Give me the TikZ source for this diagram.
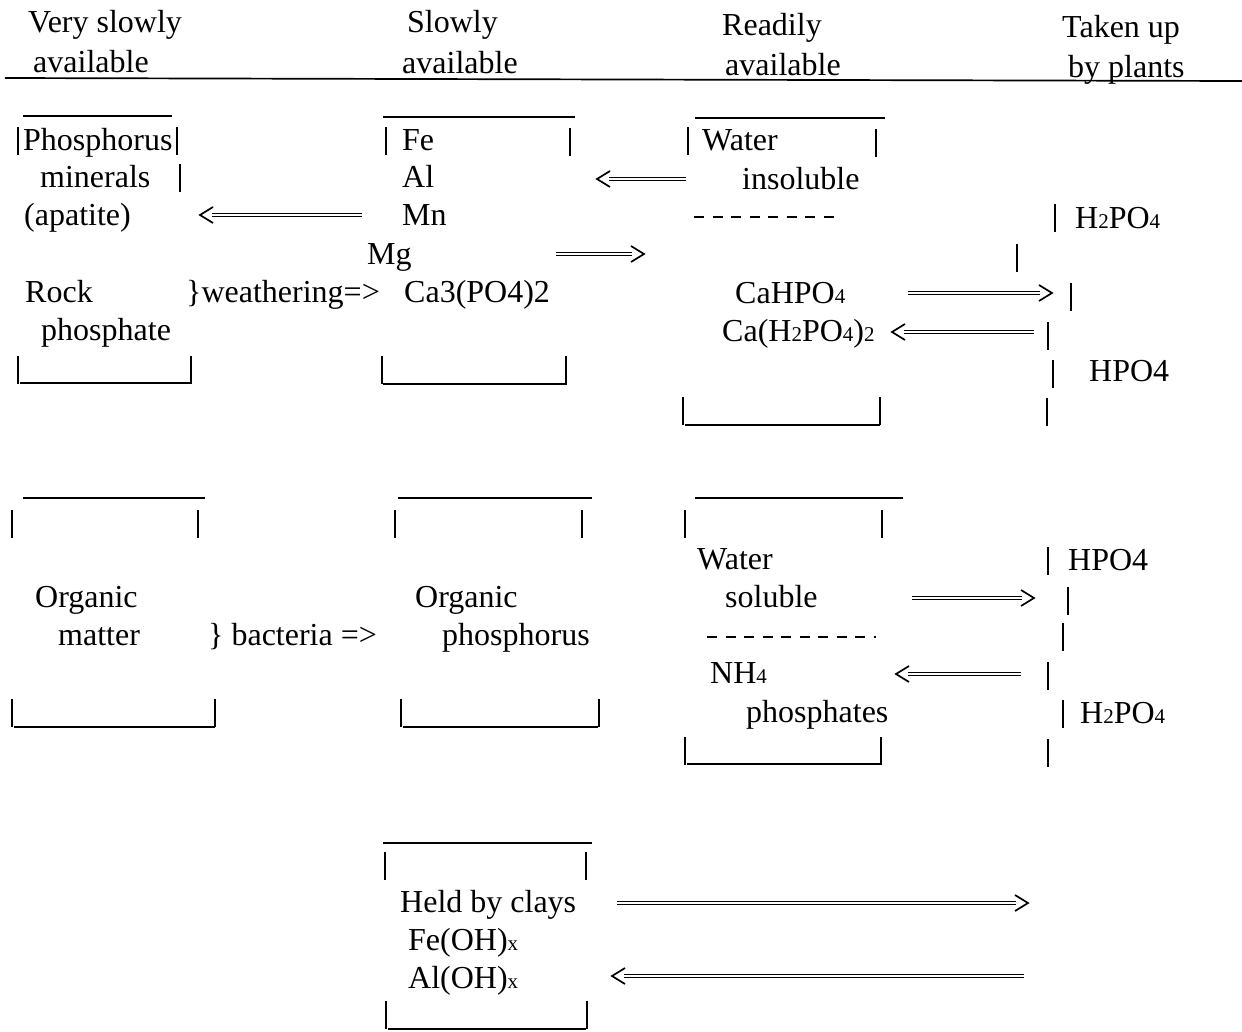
\documentclass[tikz,border=0pt]{standalone}
\usepackage{fontspec}
\setmainfont{Liberation Serif}
\usetikzlibrary{calc}
\newcommand\sbs[1]{{\fontsize{21}{21}\selectfont #1}}
\newcommand\vbar[2]{\draw[bar] (#1,#2) -- (#1,#2+28);}
\newcommand\dblarrow[2]{%
  \draw[dbl] (#1) -- ($(#2)!12pt!(#1)$);
  \draw[chev] ($(#2)!13pt!(#1)+(0,-8)$) -- (#2) -- ($(#2)!13pt!(#1)+(0,8)$);}
\begin{document}
\begin{tikzpicture}[x=1pt,y=-1pt,
  txt/.style={anchor=base west, inner sep=0pt, font=\fontsize{32}{38}\selectfont},
  rule/.style={line width=1.7pt},
  bar/.style={line width=1.6pt},
  dbl/.style={line width=1.4pt, double, double distance=2pt},
  chev/.style={line width=1.7pt, line join=miter},
  sepline/.style={line width=2.4pt, dash pattern=on 10pt off 8.5pt}]
\useasboundingbox[fill=white] (0,0) rectangle (1242,1031);
% header
\node[txt] (h1a) at (28,32) {Very slowly};
\node[txt] (h1b) at (33,72) {available};
\node[txt] (h2a) at (407,32) {Slowly};
\node[txt] (h2b) at (402,73) {available};
\node[txt] (h3a) at (722,35) {Readily};
\node[txt] (h3b) at (725,75) {available};
\node[txt] (h4a) at (1062,37) {Taken up};
\node[txt] (h4b) at (1068,77) {by plants};
\draw[rule] (5,78) -- (1242,81);
% box 1
\draw[rule] (23,116) -- (172,116);
\vbar{18}{127}
\node[txt] (b1a) at (23,150) {Phosphorus};
\vbar{177}{127}
\node[txt] (b1b) at (40,187) {minerals};
\vbar{180}{164}
\node[txt] (b1c) at (24,225) {(apatite)};
\node[txt] (b1d) at (25,302) {Rock};
\node[txt] (b1e) at (41,340) {phosphate};
\vbar{18}{356}
\draw[rule] (20,383) -- (190,383);
\vbar{191}{356}
\node[txt] (w1) at (186,302) {\}weathering=>};
% box 2
\draw[rule] (383,117) -- (575,117);
\vbar{386}{127}
\node[txt] (b2a) at (402,150) {Fe};
\vbar{570}{128}
\node[txt] (b2b) at (402,187) {Al};
\node[txt] (b2c) at (402,225) {Mn};
\node[txt] (b2d) at (367,264) {Mg};
\node[txt] (b2e) at (404,302) {Ca3(PO4)2};
\vbar{382}{356}
\draw[rule] (383,384) -- (567,384);
\vbar{566}{356}
% box 3
\draw[rule] (695,118) -- (885,118);
\vbar{688}{127}
\node[txt] (b3a) at (702,150) {Water};
\vbar{876}{129}
\node[txt] (b3b) at (742,189) {insoluble};
\draw[sepline] (694,217) -- (834,217);
\node[txt] (b3c) at (735,303) {CaHPO\sbs{4}};
\node[txt] (b3d) at (722,341) {Ca(H\sbs{2}PO\sbs{4})\sbs{2}};
\vbar{683}{397}
\draw[rule] (685,425) -- (880,425);
\vbar{880}{397}
% right column 1
\vbar{1055}{204}
\node[txt] (r1a) at (1075,228) {H\sbs{2}PO\sbs{4}};
\vbar{1017}{244}
\vbar{1071}{283}
\vbar{1048}{322}
\vbar{1053}{360}
\node[txt] (r1b) at (1089,381) {HPO4};
\vbar{1047}{398}
% box 4
\draw[rule] (23,498) -- (205,498);
\vbar{12}{510}
\vbar{198}{510}
\node[txt] (b4a) at (35,607) {Organic};
\node[txt] (b4b) at (58,645) {matter};
\vbar{12}{699}
\draw[rule] (14,727) -- (215,727);
\vbar{215}{699}
\node[txt] (bact) at (208,645) {\} bacteria =>};
% box 5
\draw[rule] (398,498) -- (592,498);
\vbar{395}{510}
\vbar{582}{510}
\node[txt] (b5a) at (415,607) {Organic};
\node[txt] (b5b) at (442,645) {phosphorus};
\vbar{401}{699}
\draw[rule] (403,727) -- (598,727);
\vbar{599}{699}
% box 6
\draw[rule] (695,498) -- (903,498);
\vbar{685}{510}
\vbar{882}{510}
\node[txt] (b6a) at (697,569) {Water};
\node[txt] (b6b) at (725,607) {soluble};
\draw[sepline] (707,637) -- (876,637);
\node[txt] (b6c) at (710,683) {NH\sbs{4}};
\node[txt] (b6d) at (746,722) {phosphates};
\vbar{685}{737}
\draw[rule] (687,764) -- (880,764);
\vbar{881}{737}
% right column 2
\vbar{1048}{547}
\node[txt] (r2a) at (1068,570) {HPO4};
\vbar{1068}{587}
\vbar{1063}{623}
\vbar{1048}{662}
\vbar{1063}{700}
\node[txt] (r2b) at (1080,723) {H\sbs{2}PO\sbs{4}};
\vbar{1048}{739}
% box 7
\draw[rule] (383,843) -- (592,843);
\vbar{385}{852}
\vbar{586}{852}
\node[txt] (b7a) at (400,912) {Held by clays};
\node[txt] (b7b) at (408,950) {Fe(OH)\sbs{x}};
\node[txt] (b7c) at (408,988) {Al(OH)\sbs{x}};
\vbar{386}{1001}
\draw[rule] (388,1029) -- (586,1029);
\vbar{587}{1001}
% arrows
\coordinate (a1t) at (362,215); \coordinate (a1h) at (200,215);
\coordinate (a2t) at (686,179); \coordinate (a2h) at (597,179);
\coordinate (a3t) at (556,254); \coordinate (a3h) at (644,254);
\coordinate (a4t) at (908,293); \coordinate (a4h) at (1052,293);
\coordinate (a5t) at (1034,332); \coordinate (a5h) at (892,332);
\coordinate (a6t) at (912,598); \coordinate (a6h) at (1034,598);
\coordinate (a7t) at (1021,674); \coordinate (a7h) at (896,674);
\coordinate (a8t) at (617,903); \coordinate (a8h) at (1028,903);
\coordinate (a9t) at (1024,976); \coordinate (a9h) at (612,976);
\dblarrow{a1t}{a1h}
\dblarrow{a2t}{a2h}
\dblarrow{a3t}{a3h}
\dblarrow{a4t}{a4h}
\dblarrow{a5t}{a5h}
\dblarrow{a6t}{a6h}
\dblarrow{a7t}{a7h}
\dblarrow{a8t}{a8h}
\dblarrow{a9t}{a9h}
\end{tikzpicture}
\end{document}
